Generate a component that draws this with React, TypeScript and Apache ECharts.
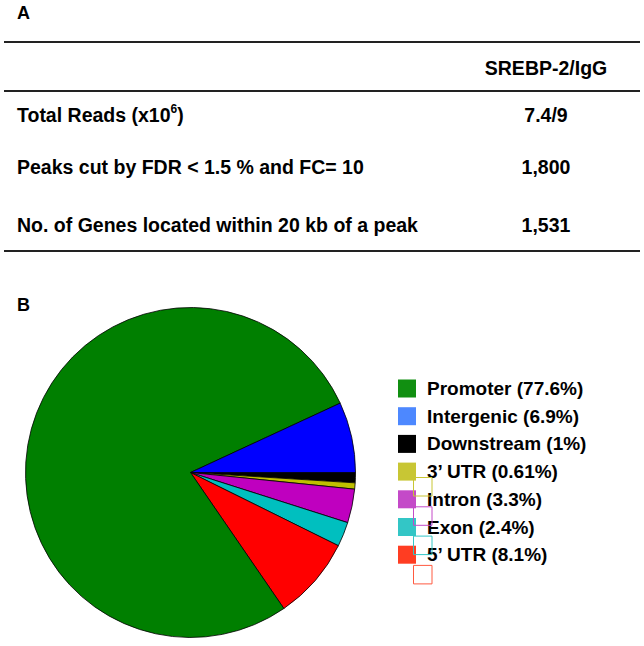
import React, { useEffect, useRef } from "react";
import * as echarts from "echarts";

// Panel A table
const tableHeader = "SREBP-2/IgG";
const rowLabels = ["Total Reads (x10", "Peaks cut by FDR < 1.5 % and FC= 10", "No. of Genes located within 20 kb of a peak"];
const rowValues = ["7.4/9", "1,800", "1,531"];

// Panel B pie (percentages), in clockwise order starting at 3 o'clock
const pieNames = ["Downstream", "3\u2019 UTR", "Intron", "Exon", "5\u2019 UTR", "Promoter", "Intergenic"];
const pieValues = [1, 0.61, 3.3, 2.4, 8.1, 77.6, 6.9];
const pieColors = ["#000000", "#bfbf00", "#bf00bf", "#00bfbf", "#ff0000", "#007f00", "#0000ff"];

// Legend order and legend swatch colours
const legendNames = ["Promoter", "Intergenic", "Downstream", "3\u2019 UTR", "Intron", "Exon", "5\u2019 UTR"];
const legendColors = ["#118f11", "#4d88ff", "#000000", "#c8c634", "#c44ac8", "#33c6c6", "#ff3d22"];
const pctLabels: Record<string, string> = {
  Promoter: "77.6%",
  Intergenic: "6.9%",
  Downstream: "1%",
  "3\u2019 UTR": "0.61%",
  Intron: "3.3%",
  Exon: "2.4%",
  "5\u2019 UTR": "8.1%",
};
// stray outlined squares present in the figure
const strayColors = ["#c8c634", "#c44ac8", "#33c6c6", "#ff5a40"];

const FONT = '"Liberation Sans", Arial, Helvetica, sans-serif';

export default function App() {
  const ref = useRef<HTMLDivElement>(null);
  useEffect(() => {
    if (!ref.current) return;
    const chart = echarts.init(ref.current, undefined, { renderer: "svg" });
    const txt = (text: string, x: number, y: number, align: string = "left", size = 19.5) => ({
      type: "text",
      x,
      y,
      style: { text, fill: "#000", font: `bold ${size}px ${FONT}`, textAlign: align, textVerticalAlign: "middle" },
    });
    const hline = (y: number) => ({
      type: "line",
      shape: { x1: 4, y1: y, x2: 640, y2: y },
      style: { stroke: "#222", lineWidth: 2 },
    });
    const rowY = [115, 167, 225];
    const graphics: any[] = [
      txt("A", 17, 13, "left", 18),
      hline(42),
      txt(tableHeader, 546, 68, "center"),
      hline(91),
      hline(251),
      txt("B", 17, 305, "left", 18),
    ];
    rowLabels.forEach((l, i) => {
      if (i === 0) {
        graphics.push({
          type: "text",
          x: 17,
          y: rowY[i],
          style: {
            text: `{a|${l}}{s|6}{a|)}`,
            textVerticalAlign: "middle",
            rich: {
              a: { font: `bold 19.5px ${FONT}`, fill: "#000", lineHeight: 24 },
              s: { font: `bold 12px ${FONT}`, fill: "#000", lineHeight: 24, verticalAlign: "top" },
            },
          },
        });
      } else {
        graphics.push(txt(l, 17, rowY[i]));
      }
      graphics.push(txt(rowValues[i], 546, rowY[i], "center"));
    });
    strayColors.forEach((c, i) => {
      graphics.push({
        type: "rect",
        z: 100,
        shape: { x: 413.5, y: 477.5 + i * 29.3, width: 18.5, height: 18.5 },
        style: { fill: "none", stroke: c, lineWidth: 1 },
      });
    });

    chart.setOption({
      animation: false,
      graphic: graphics,
      legend: {
        orient: "vertical",
        left: 398,
        top: 379,
        padding: 0,
        itemWidth: 18,
        itemHeight: 18,
        itemGap: 8.7,
        icon: "rect",
        selectedMode: false,
        data: legendNames.map((n, i) => ({ name: n, itemStyle: { color: legendColors[i], borderWidth: 0 } })),
        formatter: (n: string) => `${n} (${pctLabels[n]})`,
        textStyle: { fontFamily: FONT, fontWeight: "bold", fontSize: 19, color: "#000", lineHeight: 18, padding: [0, 0, 0, 6] },
      },
      series: [
        {
          type: "pie",
          center: [190.5, 472.5],
          radius: 165,
          startAngle: 0,
          clockwise: true,
          avoidLabelOverlap: false,
          label: { show: false },
          labelLine: { show: false },
          emphasis: { disabled: true },
          itemStyle: { borderColor: "#000", borderWidth: 0.8 },
          data: pieNames.map((n, i) => ({ name: n, value: pieValues[i], itemStyle: { color: pieColors[i] } })),
        },
      ],
    });
    return () => chart.dispose();
  }, []);
  return <div ref={ref} style={{ position: "absolute", left: 0, top: 0, width: 644, height: 646, background: "#fff" }} />;
}
